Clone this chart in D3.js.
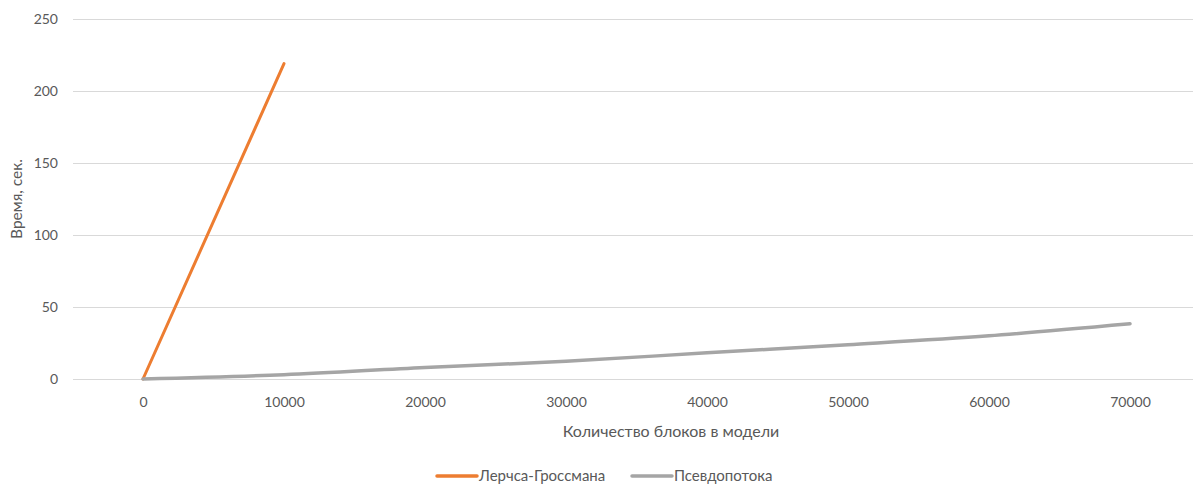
<!DOCTYPE html>
<html><head><meta charset="utf-8">
<script src="https://cdn.jsdelivr.net/npm/d3@7"></script>
<style>
body{margin:0;background:#fff;}
text{font-family:Lato,"Open Sans",sans-serif;fill:#595959;}
</style></head>
<body>
<svg id="c" width="1193" height="484"></svg>
<script>
const categories = [0,10000,20000,30000,40000,50000,60000,70000];
const lerchGrossman = [0,219];
const pseudoFlow = [0,3,8,12.3,18.2,23.8,30,38.4];
const yTicks = [0,50,100,150,200,250];
const seriesNames = ["Лерчса-Гроссмана","Псевдопотока"];
const seriesColors = ["#ED7D31","#A5A5A5"];

const svg = d3.select("#c");
const x = d3.scalePoint().domain(categories).range([72.5,1200.5]).padding(0.5);
const y = d3.scaleLinear().domain([0,250]).range([379,19]);

const g = svg.append("g");
g.selectAll("line.grid").data(yTicks).enter().append("line")
 .attr("x1",73).attr("x2",1193).attr("y1",d=>y(d)).attr("y2",d=>y(d))
 .attr("stroke","#D9D9D9").attr("stroke-width",1).attr("shape-rendering","crispEdges");

const yAxis = svg.append("g").attr("transform","translate(73,0)")
 .call(d3.axisLeft(y).tickValues(yTicks).tickSize(0).tickPadding(15));
yAxis.select(".domain").remove();
yAxis.selectAll("text").style("font-size","14px").attr("fill","#595959").attr("dy","0.35em");

const xAxis = svg.append("g").attr("transform","translate(0,379)")
 .call(d3.axisBottom(x).tickSize(0).tickPadding(18));
xAxis.select(".domain").remove();
xAxis.selectAll("text").style("font-size","14px").attr("fill","#595959");

const line = d3.line().x((d,i)=>x(categories[i])).y(d=>y(d)).curve(d3.curveCatmullRom);
[lerchGrossman,pseudoFlow].forEach((s,k)=>{
  svg.append("path").datum(s).attr("d",line).attr("fill","none")
   .attr("stroke",seriesColors[k]).attr("stroke-width",k===0?3:3.5).attr("stroke-linecap","round");
});

svg.append("text").attr("x",671).attr("y",437).attr("text-anchor","middle")
 .style("font-size","16px").text("Количество блоков в модели");
svg.append("text").attr("transform","translate(22,199) rotate(-90)").attr("text-anchor","middle")
 .style("font-size","15.5px").text("Время, сек.");

const legX = [437,632];
seriesNames.forEach((n,k)=>{
  svg.append("line").attr("x1",legX[k]).attr("x2",legX[k]+40).attr("y1",476).attr("y2",476)
   .attr("stroke",seriesColors[k]).attr("stroke-width",3.5).attr("stroke-linecap","round");
  svg.append("text").attr("x",legX[k]+42).attr("y",476).attr("dy","0.35em")
   .style("font-size","15px").text(n);
});
</script>
</body></html>
